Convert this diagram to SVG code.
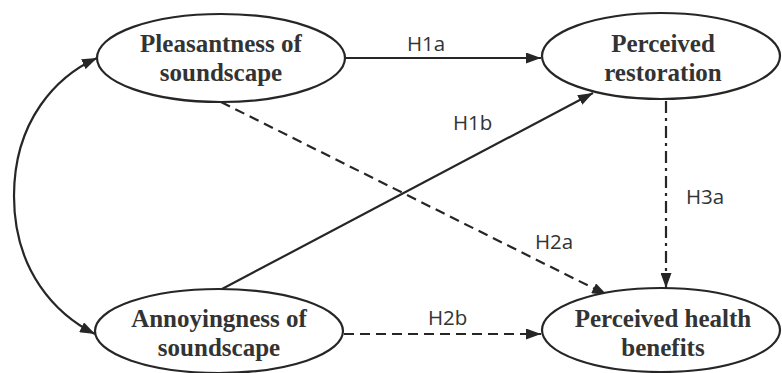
<svg xmlns="http://www.w3.org/2000/svg" width="782" height="373" viewBox="0 0 782 373">
<defs>
<marker id="ah" viewBox="0 0 15 11" refX="15" refY="5.5" markerWidth="15" markerHeight="11" markerUnits="userSpaceOnUse" orient="auto-start-reverse">
<path d="M0,0 L15,5.5 L0,11 Z" fill="#262626"/>
</marker>
<style>
.node ellipse{fill:#fff;stroke:#262626;stroke-width:2.2}
.node text{font-family:"Liberation Serif","Times New Roman",serif;font-weight:bold;font-size:25px;fill:#333;text-anchor:middle}
.conn path{fill:none;stroke:#262626;stroke-width:2.2}
.lbl{font-family:"Open Sans","Liberation Sans",sans-serif;font-size:20.5px;fill:#333}
.dash{stroke-dasharray:10 6}
.dashdot{stroke-dasharray:12 5 3 5}
</style>
</defs>
<rect width="782" height="373" fill="#fff"/>
<g class="conn" id="connectors">
<path d="M345,58 L541,58" marker-end="url(#ah)"/>
<path d="M222,289 L593,93" marker-end="url(#ah)"/>
<path class="dash" d="M221,102 L607,295" marker-end="url(#ah)"/>
<path class="dashdot" d="M666,101 L666,288" marker-end="url(#ah)"/>
<path class="dash" d="M344,334 L541,334" marker-end="url(#ah)"/>
<path d="M97,58 C57,76 14,120 14,196 C14,272 57,315 95,334" marker-start="url(#ah)" marker-end="url(#ah)"/>
<text class="lbl" x="407" y="51">H1a</text>
<text class="lbl" x="453" y="130">H1b</text>
<text class="lbl" x="535" y="249">H2a</text>
<text class="lbl" x="686" y="204">H3a</text>
<text class="lbl" x="428" y="325">H2b</text>
</g>
<g class="node" id="pleasantness">
<ellipse cx="221" cy="58" rx="124" ry="44"/>
<text x="221" y="52">Pleasantness of</text>
<text x="221" y="81">soundscape</text>
</g>
<g class="node" id="restoration">
<ellipse cx="661" cy="56" rx="119" ry="43"/>
<text x="663" y="52">Perceived</text>
<text x="663" y="81">restoration</text>
</g>
<g class="node" id="annoyingness">
<ellipse cx="219" cy="331" rx="124" ry="42"/>
<text x="219" y="327">Annoyingness of</text>
<text x="219" y="356">soundscape</text>
</g>
<g class="node" id="health">
<ellipse cx="661" cy="330" rx="119" ry="42"/>
<text x="663" y="327">Perceived health</text>
<text x="663" y="356">benefits</text>
</g>
</svg>
